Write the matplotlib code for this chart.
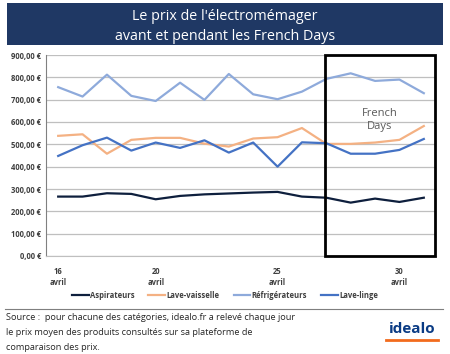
#!/usr/bin/env python3

import matplotlib
matplotlib.use('Agg')
import matplotlib.pyplot as plt
from matplotlib.patches import Rectangle
from matplotlib.lines import Line2D

plt.rcParams['font.family'] = ['Open Sans', 'DejaVu Sans']

days = list(range(16, 32))
aspirateurs = [266, 266, 281, 278, 254, 269, 276, 280, 284, 287, 266, 261, 239, 257, 242, 261]
lave_vaisselle = [538, 545, 458, 520, 529, 529, 503, 490, 526, 532, 573, 502, 502, 508, 520, 582]
refrigerateurs = [756, 714, 812, 717, 694, 776, 699, 815, 724, 702, 736, 793, 818, 784, 790, 729]
lave_linge = [448, 496, 530, 472, 508, 484, 518, 463, 508, 400, 509, 505, 458, 458, 475, 524]

series = [
    ('Aspirateurs', aspirateurs, '#0e1f3d'),
    ('Lave-vaisselle', lave_vaisselle, '#f4b183'),
    ('Réfrigérateurs', refrigerateurs, '#8eaadb'),
    ('Lave-linge', lave_linge, '#4472c4'),
]

xticks = [16, 20, 25, 30]
yticks = list(range(0, 1000, 100))

source_lines = [
    'Source :  pour chacune des catégories, idealo.fr a relevé chaque jour',
    'le prix moyen des produits consultés sur sa plateforme de',
    'comparaison des prix.',
]

fig = plt.figure(figsize=(4.5, 3.54), dpi=100)

# title banner
fig.patches.append(Rectangle((7/450, 1-45/354), 436/450, 42/354, transform=fig.transFigure,
                             facecolor='#1f3864', edgecolor='none'))
fig.text(0.5, 1-16/354, "Le prix de l'électromémager", color='white', fontsize=10.3,
         ha='center', va='center')
fig.text(0.5, 1-37/354, 'avant et pendant les French Days', color='white', fontsize=10.3,
         ha='center', va='center')

ax = fig.add_axes([46/450, 1-256/354, 390/450, 201/354])
for name, vals, color in series:
    ax.plot(days, vals, color=color, lw=1.6, label=name)

ax.set_xlim(15.5, 31.5)
ax.set_ylim(0, 900)
ax.set_yticks(yticks)
ax.set_yticklabels([f'{v},00 €' for v in yticks])
ax.set_xticks(xticks)
ax.set_xticklabels([f'{d}\navril' for d in xticks])
ax.tick_params(axis='both', length=0, labelsize=5.5, colors='#404040')
ax.tick_params(axis='x', pad=8)
for lab in ax.get_xticklabels() + ax.get_yticklabels():
    lab.set_fontweight('bold')
ax.grid(axis='y', color='#bfbfbf', lw=0.9)
ax.set_axisbelow(True)
for s in ['top', 'right']:
    ax.spines[s].set_visible(False)
ax.spines['left'].set_color('#808080')
ax.spines['bottom'].set_color('#bfbfbf')

# French Days box
ax.add_patch(Rectangle((26.95, 0), 4.5, 900, fill=False, edgecolor='black', lw=2,
                       clip_on=False, zorder=5))
ax.text(29.2, 610, 'French\nDays', ha='center', va='center', fontsize=8,
        color='#595959', linespacing=1.3)

handles = [Line2D([], [], color=c, lw=1.6) for _, _, c in series]
leg = fig.legend(handles, [n for n, _, _ in series], loc='center',
                 bbox_to_anchor=(0.5, 1-295/354), ncol=4, frameon=False,
                 handlelength=2.2, handletextpad=0.2, columnspacing=1.8,
                 prop={'weight': 'bold', 'size': 5.5})
for t in leg.get_texts():
    t.set_color('#404040')

# separator and source
fig.add_artist(Line2D([5/450, 443/450], [1-309/354, 1-309/354], color='#7f7f7f', lw=0.8))
for i, line in enumerate(source_lines):
    fig.text(6/450, 1-(318 + 14.5*i)/354, line, fontsize=6.6, color='#262626',
             va='center', ha='left')

# idealo logo
fig.text(412/450, 1-329/354, 'idealo', fontsize=11, fontweight='bold', color='#0a3b84',
         ha='center', va='center')
fig.add_artist(Line2D([386/450, 438/450], [1-340/354, 1-340/354], color='#f26b1d', lw=2))

fig.savefig('out.png', dpi=100)
